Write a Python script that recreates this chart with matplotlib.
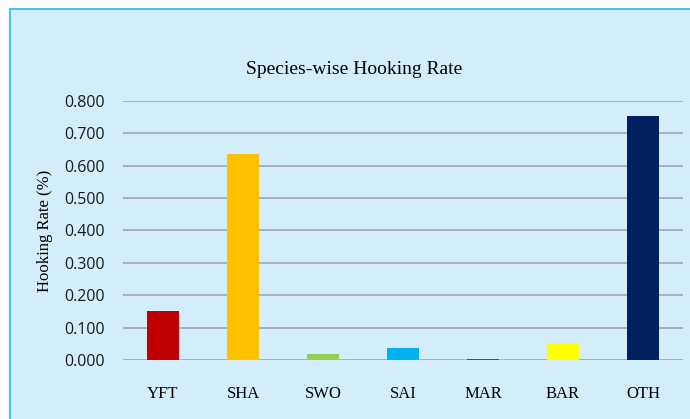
import matplotlib.pyplot as plt
from matplotlib.patches import Rectangle

species = ["YFT", "SHA", "SWO", "SAI", "MAR", "BAR", "OTH"]
rate = [0.152, 0.636, 0.019, 0.037, 0.003, 0.052, 0.753]
colors = ["#c00000", "#ffc000", "#92d050", "#00b0f0", "#7030a0", "#ffff00", "#002060"]
yticks = [0.0, 0.1, 0.2, 0.3, 0.4, 0.5, 0.6, 0.7, 0.8]

W, H = 690, 419
fig = plt.figure(figsize=(W / 100, H / 100), dpi=100)
fig.patch.set_facecolor("white")

# chart box (runs off the right and bottom edge)
box = Rectangle((10 / W, -0.1), 1.0, 1 - 9 / H + 0.1, transform=fig.transFigure,
                facecolor="#d3eefa", edgecolor="#4cc0ee", linewidth=1.5, zorder=-5)
fig.patches.append(box)

ax = fig.add_axes([123 / W, 1 - 360 / H, 560 / W, 259 / H])
ax.set_zorder(2)
ax.set_facecolor("none")
ax.bar(range(len(species)), rate, width=0.4, color=colors, zorder=3)
ax.set_xlim(-0.5, len(species) - 0.5)
ax.set_ylim(0, 0.8)
ax.set_yticks(yticks)
ax.set_yticklabels([f"{v:.3f}" for v in yticks], fontfamily="Open Sans", fontsize=11.5, color="#1a1a1a")
ax.set_xticks(range(len(species)))
ax.set_xticklabels(species, fontfamily="Liberation Serif", fontsize=12)
ax.tick_params(axis="x", length=0, pad=19)
ax.tick_params(axis="y", length=0, pad=13)
ax.grid(axis="y", color="#a6a6a6", linewidth=1.2, zorder=1)
for s in ax.spines.values():
    s.set_visible(False)

ax.set_ylabel("Hooking Rate (%)", fontfamily="Liberation Serif", fontsize=12, labelpad=8)
fig.text(354 / W, 1 - 70 / H, "Species-wise Hooking Rate", ha="center", va="center",
         fontfamily="Liberation Serif", fontsize=14, zorder=3)

fig.savefig("out.png", dpi=100)
